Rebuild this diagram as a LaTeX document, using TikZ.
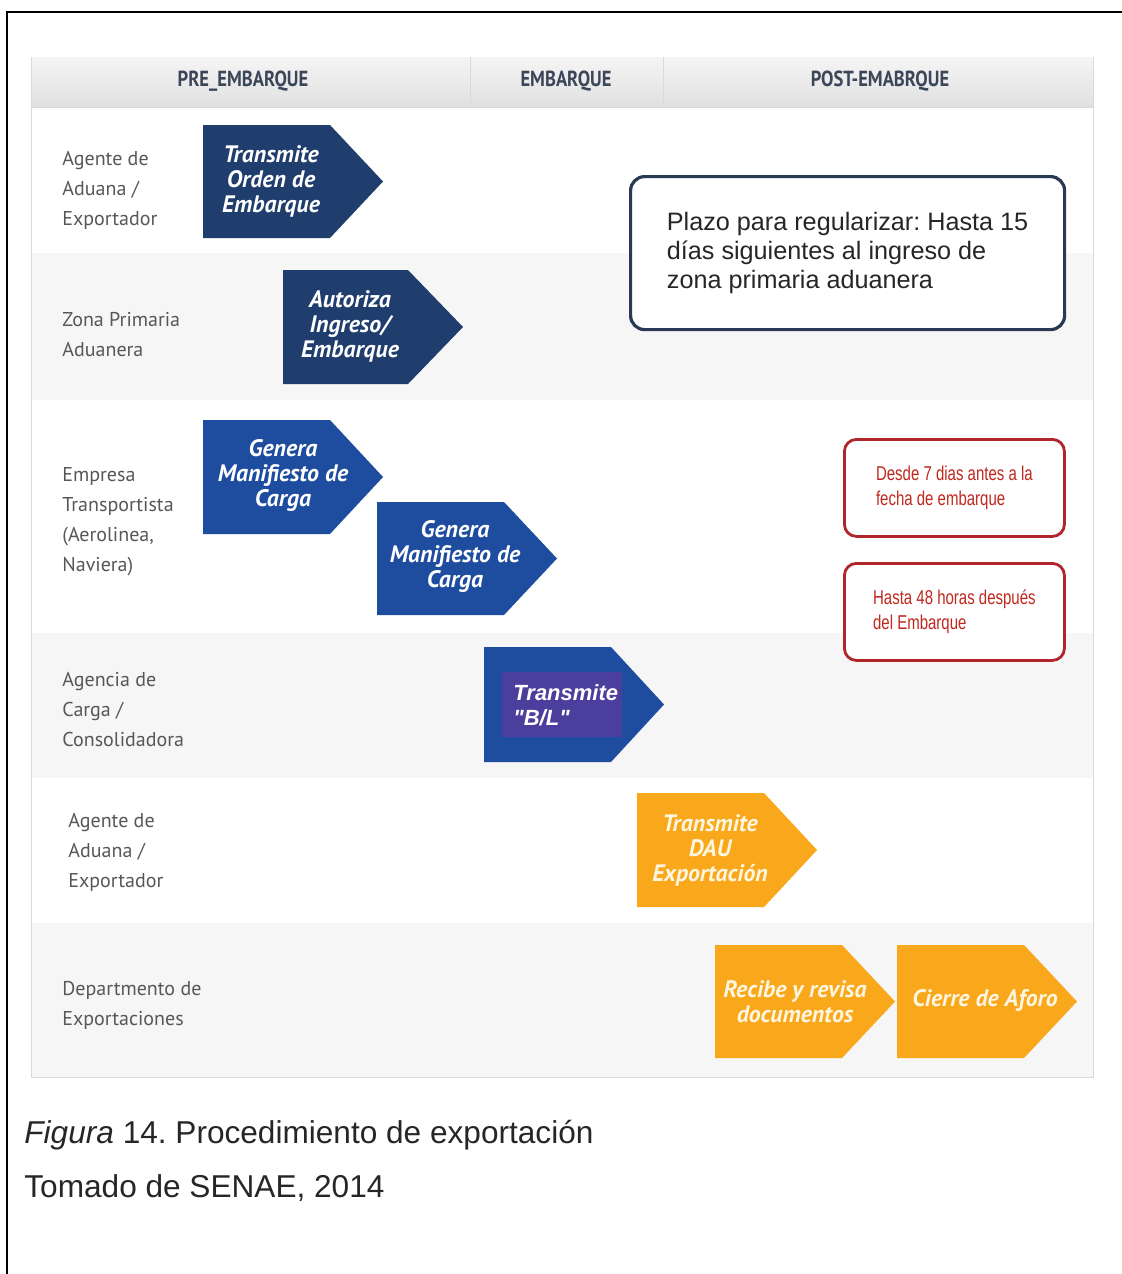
\documentclass[tikz,border=0pt]{standalone}
\usepackage{fontspec}
\setmainfont{Liberation Sans}
\newfontfamily\rotulofont{PT Sans}
\newfontfamily\cabecerafont[FakeStretch=0.85]{PT Sans}
\newfontfamily\plazofont[FakeStretch=0.75]{Liberation Sans}
\newfontfamily\blfont[Ligatures=TeXOff]{Liberation Sans}
\usepackage{xcolor}
\usepackage{tikz}

\definecolor{marino}{HTML}{1F3D6D}
\definecolor{azul}{HTML}{1E4C9E}
\definecolor{morado}{HTML}{4B3E9C}
\definecolor{naranja}{HTML}{F9A71B}
\definecolor{crema}{HTML}{FFF6E0}
\definecolor{franja}{HTML}{F6F6F6}
\definecolor{borde}{HTML}{DADADA}
\definecolor{rotulo}{HTML}{575757}
\definecolor{cabecera}{HTML}{3B4658}
\definecolor{tinta}{HTML}{2A3A55}
\definecolor{rojo}{HTML}{B0262B}
\definecolor{rojotexto}{HTML}{C0281E}

\begin{document}
\frenchspacing
\begin{tikzpicture}[x=.5pt, y=-.5pt,
    rotulo/.style={anchor=west, align=left, text=rotulo, inner sep=0pt,
        font=\rotulofont\fontsize{10}{15}\selectfont},
    cabeza/.style={text=cabecera, font=\cabecerafont\bfseries\fontsize{10.9}{12}\selectfont},
    pasotexto/.style={align=center, text=white, inner sep=0pt,
        font=\rotulofont\bfseries\itshape\fontsize{11.9}{12.5}\selectfont},
    plazobox/.style={draw=tinta, line width=1.6pt, rounded corners=7pt, fill=white,
        align=left, anchor=north west, minimum width=217pt, minimum height=76.5pt,
        font=\fontsize{12.6}{14.5}\selectfont, text=black!85},
    rojobox/.style={draw=rojo, line width=1.4pt, rounded corners=6pt, fill=white,
        align=left, anchor=north west, minimum width=110pt, minimum height=48.5pt,
        text=rojotexto, font=\plazofont\fontsize{10}{12.5}\selectfont}]

    \useasboundingbox (0,0) rectangle (1122,1274);

    % marco
    \draw[line width=1pt] (7,1274) -- (7,12) -- (1122,12);

    % franjas de la tabla
    \fill[white] (31,107) rectangle (1093,1077);
    \fill[franja] (31,253) rectangle (1093,400);
    \fill[franja] (31,633) rectangle (1093,778);
    \fill[franja] (31,923) rectangle (1093,1077);
    \shade[top color=black!4, bottom color=black!12] (31,57) rectangle (1093,107);
    \draw[borde] (31,57) -- (31,1077) -- (1093,1077) -- (1093,57);
    \draw[borde] (31,107) -- (1093,107);
    \draw[borde] (470,57) -- (470,107);
    \draw[borde] (663,57) -- (663,107);

    \node[cabeza] (pre) at (243,81) {PRE\_EMBARQUE};
    \node[cabeza] (emb) at (566,81) {EMBARQUE};
    \node[cabeza] (post) at (880,81) {POST-EMABRQUE};

    % actores
    \node[rotulo] (agente1) at (62,190) {Agente de\\Aduana /\\Exportador};
    \node[rotulo] (zona) at (62,335) {Zona Primaria\\Aduanera};
    \node[rotulo] (empresa) at (62,522) {Empresa\\Transportista\\(Aerolinea,\\Naviera)};
    \node[rotulo] (agencia) at (62,710) {Agencia de\\Carga /\\Consolidadora};
    \node[rotulo] (agente2) at (68,852) {Agente de\\Aduana /\\Exportador};
    \node[rotulo] (depto) at (62,1005) {Departmento de\\Exportaciones};

    % pasos
    \fill[marino] (203,125) -- ++(127,0) -- ++(53,56.5) -- ++(-53,56.5) -- ++(-127,0) -- cycle;
    \node[pasotexto] (orden) at (271,181) {Transmite\\Orden de\\Embarque};

    \fill[marino] (283,270) -- ++(125,0) -- ++(55,57) -- ++(-55,57) -- ++(-125,0) -- cycle;
    \node[pasotexto] (autoriza) at (350,326) {Autoriza\\Ingreso/\\Embarque};

    \fill[azul] (203,420) -- ++(127,0) -- ++(53,57) -- ++(-53,57) -- ++(-127,0) -- cycle;
    \node[pasotexto] (manifiesto1) at (283,476) {Genera\\Manifiesto de\\Carga};

    \fill[azul] (377,502) -- ++(127,0) -- ++(53,56.5) -- ++(-53,56.5) -- ++(-127,0) -- cycle;
    \node[pasotexto] (manifiesto2) at (455,557) {Genera\\Manifiesto de\\Carga};

    \fill[azul] (484,647) -- ++(127,0) -- ++(53,57.5) -- ++(-53,57.5) -- ++(-127,0) -- cycle;
    \fill[morado] (502,672) rectangle (622,737);
    \node[pasotexto, align=left, anchor=west, font=\blfont\bfseries\itshape\fontsize{11}{12.5}\selectfont]
        (bl) at (513,705) {Transmite\\"B/L"};

    \fill[naranja] (637,793) -- ++(127,0) -- ++(53,57) -- ++(-53,57) -- ++(-127,0) -- cycle;
    \node[pasotexto, text=crema] (dau) at (710,850) {Transmite\\DAU\\Exportación};

    \fill[naranja] (715,945) -- ++(127,0) -- ++(53,56.5) -- ++(-53,56.5) -- ++(-127,0) -- cycle;
    \node[pasotexto, text=crema] (revisa) at (795,1002) {Recibe y revisa\\documentos};

    \fill[naranja] (897,945) -- ++(127,0) -- ++(53,56.5) -- ++(-53,56.5) -- ++(-127,0) -- cycle;
    \node[pasotexto, text=crema] (aforo) at (985,1000) {Cierre de Aforo};

    % plazos
    \node[plazobox] (plazo) at (629,175)
        {Plazo para regularizar: Hasta 15\\días siguientes al ingreso de\\zona primaria aduanera};
    \node[rojobox] (desde) at (843,438) {Desde 7 dias antes a la\\fecha de embarque};
    \node[rojobox] (hasta) at (843,562) {Hasta 48 horas después\\del Embarque};

    % pie
    \node[anchor=west, inner sep=0pt, font=\fontsize{15.8}{18}\selectfont, text=black!85]
        (figura) at (24,1135) {\textit{Figura} 14. Procedimiento de exportación};
    \node[anchor=west, inner sep=0pt, font=\fontsize{15.8}{18}\selectfont, text=black!85]
        (fuente) at (24,1188) {Tomado de SENAE, 2014};
\end{tikzpicture}
\end{document}
